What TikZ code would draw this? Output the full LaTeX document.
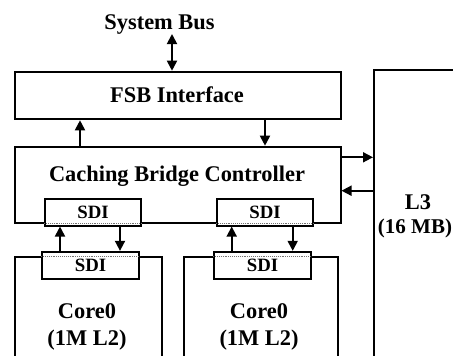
\documentclass[tikz,border=0pt]{standalone}
\usepackage{fontspec}
\setmainfont{Liberation Serif}
\usetikzlibrary{arrows.meta}
\begin{document}
\begin{tikzpicture}[x=1pt,y=-1pt,
  box/.style={draw, line width=2pt, inner sep=0pt, anchor=north west},
  sdibox/.style={draw, line width=1.8pt, fill=white, inner sep=0pt,
     minimum height=26.5pt, minimum width=96pt,
     font=\fontsize{18.8}{20}\selectfont\bfseries},
  lbl/.style={font=\fontsize{22.4}{26}\selectfont\bfseries, inner sep=0pt, anchor=base},
  arr/.style={line width=1.8pt, -{Triangle[length=10pt,width=10pt]}},
  darr/.style={line width=1.8pt, {Triangle[length=10pt,width=10pt]}-{Triangle[length=10pt,width=10pt]}},
  dotl/.style={densely dotted, line width=0.9pt, black!55}]
\useasboundingbox (0,0) rectangle (453,356);
\clip (0,0) rectangle (453,356);
% boxes
\node[box, minimum width=326pt, minimum height=47.6pt] (fsb) at (14,70.7) {};
\node[box, minimum width=325.5pt, minimum height=76pt] (cbc) at (14,145.7) {};
\node[box, minimum width=120pt, minimum height=320pt] (l3) at (373,69) {};
\node[box, minimum width=147pt, minimum height=120pt] (core1) at (14,256) {};
\node[box, minimum width=154pt, minimum height=120pt] (core2) at (182.7,256) {};
% texts
\node[lbl] (sysbus) at (159.5,29) {System Bus};
\node[lbl] (fsbt) at (177,102.5) {FSB Interface};
\node[lbl] (cbct) at (177,181) {Caching Bridge Controller};
\node[lbl] (l3a) at (418,209) {L3};
\node[lbl, font=\fontsize{21}{24}\selectfont\bfseries] (l3b) at (415,233) {(16 MB)};
\node[lbl] (c1a) at (87,318) {Core0};
\node[lbl] (c1b) at (87,345.5) {(1M L2)};
\node[lbl] (c2a) at (259,318) {Core0};
\node[lbl] (c2b) at (259,345.5) {(1M L2)};
% SDI boxes
\node[sdibox] (su1) at (93,212.4) {SDI};
\node[sdibox] (su2) at (265,212.4) {SDI};
\node[sdibox, minimum height=27.3pt, minimum width=97pt] (sl1) at (90.5,265.4) {SDI};
\node[sdibox, minimum height=27.3pt, minimum width=97pt] (sl2) at (262.5,265.4) {SDI};
% dotted borders through SDI boxes
\draw[dotl] (su1.west |- cbc.south) -- (su1.east |- cbc.south);
\draw[dotl] (su2.west |- cbc.south) -- (su2.east |- cbc.south);
\draw[dotl] (sl1.west |- core1.north) -- (sl1.east |- core1.north);
\draw[dotl] (sl2.west |- core2.north) -- (sl2.east |- core2.north);
% connector anchor points
\coordinate (busend) at (172,34);
\coordinate (xa) at (80,0);
\coordinate (xb) at (265,0);
\coordinate (ya) at (0,157.3);
\coordinate (yb) at (0,190.7);
\coordinate (x1) at (60,0);
\coordinate (x2) at (120,0);
\coordinate (x3) at (231.7,0);
\coordinate (x4) at (292.7,0);
% connectors
\draw[darr] (busend) -- (busend |- fsb.north);
\draw[arr] (cbc.north -| xa) -- (fsb.south -| xa);
\draw[arr] (fsb.south -| xb) -- (cbc.north -| xb);
\draw[arr] (cbc.east |- ya) -- (l3.west |- ya);
\draw[arr] (l3.west |- yb) -- (cbc.east |- yb);
\draw[arr] (sl1.north -| x1) -- (su1.south -| x1);
\draw[arr] (su1.south -| x2) -- (sl1.north -| x2);
\draw[arr] (sl2.north -| x3) -- (su2.south -| x3);
\draw[arr] (su2.south -| x4) -- (sl2.north -| x4);
\end{tikzpicture}
\end{document}
